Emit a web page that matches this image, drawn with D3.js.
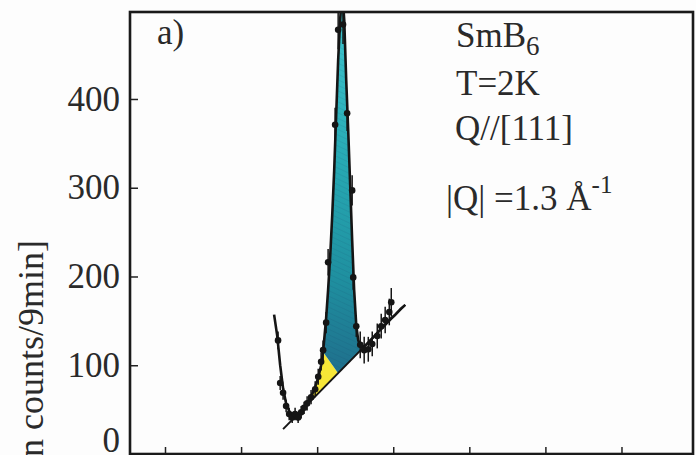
<!DOCTYPE html>
<html>
<head>
<meta charset="utf-8">
<script src="https://cdn.jsdelivr.net/npm/d3@7/dist/d3.min.js"></script>
</head>
<body style="margin:0; background:#fdfdfd">
<svg id="chart" width="696" height="455" style="display:block"></svg>
<script>
const SERIF = "Liberation Serif";
// Measured points: energy transfer (meV), counts per 9 min, error
const energy = [7.43, 7.57, 7.76, 7.96, 8.16, 8.36, 8.55, 8.75, 8.95, 9.14, 9.34, 9.60, 9.87, 10.07,
  10.26, 10.39, 10.59, 10.72, 11.18, 11.38, 11.70, 11.97, 12.30, 12.37, 12.57, 12.83, 13.09, 13.36,
  13.62, 13.95, 14.21, 14.47, 14.74, 14.87];
const counts = [128, 80, 69, 54, 45, 41, 45, 41, 47, 52, 57, 64, 73, 87,
  104, 117, 148, 216, 371, 478, 484, 384, 297, 199, 144, 123, 117, 118,
  124, 133, 144, 151, 160, 171];
const errors = [10, 8, 8, 7, 7, 6, 7, 6, 7, 7, 8, 8, 9, 9,
  10, 11, 12, 15, 19, 22, 22, 20, 17, 14, 12, 15, 15, 14,
  14, 14, 14, 15, 15, 16];

// Fitted curve (elastic tail + background + exciton peak)
const fitEnergy = [7.17, 7.37, 7.57, 7.76, 7.96, 8.22, 8.49, 8.75, 9.01, 9.28, 9.54, 9.80, 10.07,
  10.26, 10.39, 10.49, 10.59, 10.72, 10.86, 10.99, 11.12, 11.25, 11.38, 11.51, 11.64, 11.78, 11.91,
  12.04, 12.17, 12.30, 12.43, 12.57, 12.70, 12.89, 13.16, 13.49, 13.82, 14.14, 14.47, 14.80, 15.13,
  15.46, 15.79];
const fitCounts = [157, 134, 100, 74, 57, 46, 42, 44, 49, 55, 63, 72, 86,
  100, 115, 134, 153, 185, 224, 269, 320, 382, 444, 489, 523, 489, 421,
  365, 303, 241, 185, 145, 128, 121, 122, 128, 134, 140, 146, 152, 157,
  163, 168];

// Linear background line (two end points)
const bgEnergy = [7.76, 15.79];
const bgCounts = [28, 168];

// Energies bounding the shaded areas
const yellowFrom = 9.6, shadeSplit = 10.39, splitOnBg = 11.38, tealTo = 12.83;

// Axis ticks
const yTicks = [0, 100, 200, 300, 400];
const xTicks = [0, 5, 10, 15, 20, 25, 30];

const svg = d3.select("#chart");
const x = d3.scaleLinear().domain([-2.3, 34.7]).range([130, 693]);
const y = d3.scaleLinear().domain([0, 498]).range([454, 12]);

const defs = svg.append("defs");
defs.append("clipPath").attr("id", "plotClip")
  .append("rect").attr("x", x.range()[0]).attr("y", y.range()[1])
  .attr("width", x.range()[1] - x.range()[0]).attr("height", y.range()[0] - y.range()[1]);

const grad = defs.append("linearGradient").attr("id", "tealGrad")
  .attr("x1", 0).attr("y1", 0).attr("x2", 0).attr("y2", 1);
[["0%", "#43cad2"], ["45%", "#27a9b3"], ["75%", "#1f90a0"], ["100%", "#1f6f8c"]]
  .forEach(([o, c]) => grad.append("stop").attr("offset", o).attr("stop-color", c));

const pat = defs.append("pattern").attr("id", "streaks").attr("width", 5).attr("height", 5)
  .attr("patternUnits", "userSpaceOnUse").attr("patternTransform", "rotate(-65)");
pat.append("line").attr("x1", 0).attr("y1", 0).attr("x2", 0).attr("y2", 5)
  .attr("stroke", "rgba(15,60,90,0.14)").attr("stroke-width", 1.4);

const fitPts = fitEnergy.map((e, i) => [e, fitCounts[i]]);
const fitAt = e => {
  const i = d3.bisectLeft(fitEnergy, e);
  if (i <= 0) return fitCounts[0];
  if (i >= fitEnergy.length) return fitCounts[fitCounts.length - 1];
  const t = (e - fitEnergy[i - 1]) / (fitEnergy[i] - fitEnergy[i - 1]);
  return fitCounts[i - 1] + t * (fitCounts[i] - fitCounts[i - 1]);
};
const bgAt = e => bgCounts[0] + (e - bgEnergy[0]) * (bgCounts[1] - bgCounts[0]) / (bgEnergy[1] - bgEnergy[0]);
const fitSegment = (a, b) => [[a, fitAt(a)], ...fitPts.filter(p => p[0] > a && p[0] < b), [b, fitAt(b)]];

const line = d3.line().x(d => x(d[0])).y(d => y(d[1]));
const plot = svg.append("g").attr("clip-path", "url(#plotClip)");

// Yellow area: between fit and background on the low-energy side
const yellowPoly = [...fitSegment(yellowFrom, shadeSplit), [splitOnBg, bgAt(splitOnBg)], [yellowFrom, bgAt(yellowFrom)]];
plot.append("path").attr("d", line(yellowPoly) + "Z").attr("fill", "#f6e637");

// Teal area: the exciton peak above background
const tealPoly = [...fitSegment(shadeSplit, tealTo), [tealTo, bgAt(tealTo)], [splitOnBg, bgAt(splitOnBg)]];
plot.append("path").attr("d", line(tealPoly) + "Z").attr("fill", "url(#tealGrad)");
plot.append("path").attr("d", line(tealPoly) + "Z").attr("fill", "url(#streaks)");

// Background line
plot.append("path").attr("d", line(bgEnergy.map((e, i) => [e, bgCounts[i]])))
  .attr("fill", "none").attr("stroke", "#151515").attr("stroke-width", 2);

// Fit curve
plot.append("path").attr("d", line(fitPts))
  .attr("fill", "none").attr("stroke", "#151515").attr("stroke-width", 2.6).attr("stroke-linejoin", "round");

// Error bars and points
const pts = energy.map((e, i) => ({ e, c: counts[i], s: errors[i] }));
plot.selectAll("line.err").data(pts).join("line").attr("class", "err")
  .attr("x1", d => x(d.e)).attr("x2", d => x(d.e))
  .attr("y1", d => y(d.c - d.s)).attr("y2", d => y(d.c + d.s))
  .attr("stroke", "#151515").attr("stroke-width", 1.5);
plot.selectAll("circle.pt").data(pts).join("circle").attr("class", "pt")
  .attr("cx", d => x(d.e)).attr("cy", d => y(d.c)).attr("r", 3.3).attr("fill", "#151515");

// Axes
const yAxis = svg.append("g").attr("transform", `translate(${x.range()[0]},0)`)
  .call(d3.axisLeft(y).tickValues(yTicks).tickSizeInner(-8).tickSizeOuter(0).tickPadding(10));
yAxis.attr("font-family", SERIF).attr("font-size", 35);
yAxis.selectAll("text").attr("fill", "#2a2a2a");
// lift the zero label so it sits above the bottom edge
yAxis.selectAll(".tick").filter(d => d === 0).select("text").attr("dy", "-0.08em");
yAxis.selectAll(".tick line").attr("stroke", "#222").attr("stroke-width", 1.5);
yAxis.select(".domain").remove();

const xAxis = svg.append("g").attr("transform", `translate(0,${y.range()[0]})`)
  .call(d3.axisBottom(x).tickValues(xTicks).tickSizeInner(-7).tickSizeOuter(0).tickFormat(""));
xAxis.selectAll(".tick line").attr("stroke", "#222").attr("stroke-width", 1.5);
xAxis.select(".domain").remove();

// Frame
svg.append("rect").attr("x", x.range()[0]).attr("y", y.range()[1])
  .attr("width", x.range()[1] - x.range()[0]).attr("height", y.range()[0] - y.range()[1])
  .attr("fill", "none").attr("stroke", "#1a1a1a").attr("stroke-width", 2.6);

const txt = (sel, size) => sel.attr("font-family", SERIF).attr("font-size", size).attr("fill", "#2a2a2a");

// Y-axis title
txt(svg.append("text"), 36).attr("transform", "translate(43,240) rotate(-90)")
  .attr("text-anchor", "end")
  .text("Intensity [neutron counts/9min]");

// Panel label
txt(svg.append("text"), 35).attr("x", 157).attr("y", 44).text("a)");

// Sample and conditions
const t1 = txt(svg.append("text"), 35).attr("x", 456).attr("y", 47);
t1.append("tspan").text("SmB");
t1.append("tspan").attr("dy", 8).attr("font-size", 27).text("6");
txt(svg.append("text"), 35).attr("x", 456).attr("y", 95).text("T=2K");
txt(svg.append("text"), 35).attr("x", 455).attr("y", 140).text("Q//[111]");
const t4 = txt(svg.append("text"), 35).attr("x", 446).attr("y", 210);
t4.append("tspan").text("|Q| =1.3 Å");
t4.append("tspan").attr("dy", -17).attr("font-size", 25).text("-1");
</script>
</body>
</html>
